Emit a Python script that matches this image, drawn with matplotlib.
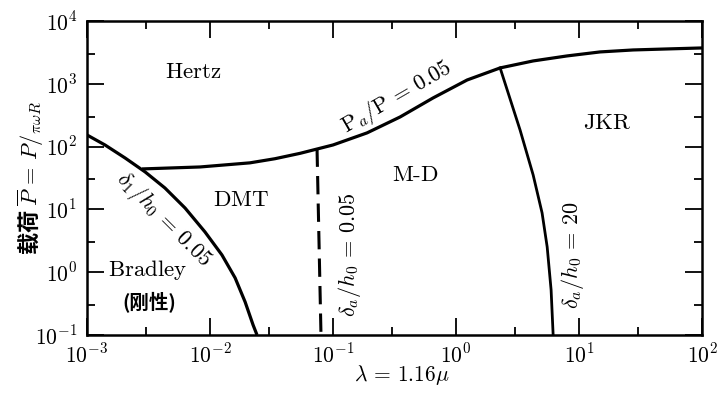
import matplotlib
matplotlib.use("Agg")
import matplotlib.pyplot as plt
from matplotlib.ticker import FixedLocator, FixedFormatter, NullFormatter

plt.rcParams['mathtext.fontset'] = 'cm'
plt.rcParams['font.family'] = ['DejaVu Serif']

# Regime boundaries on the load / elasticity map
pa_lam = [0.0028, 0.0083, 0.0211, 0.0337, 0.054, 0.1, 0.189, 0.351, 0.65, 1.23,
          2.28, 4.23, 7.98, 14.8, 27.5, 51.9, 100]
pa_load = [44, 47.3, 55, 64, 78, 106, 165, 296, 594, 1148,
           1786, 2307, 2772, 3210, 3451, 3580, 3715]

d1_lam = [0.001, 0.0014, 0.00204, 0.00297, 0.0043, 0.00627, 0.0091, 0.0125,
          0.016, 0.0193, 0.0224, 0.0241]
d1_load = [153, 106, 65.8, 39.4, 21.9, 10.5, 4.37, 1.88, 0.81, 0.335, 0.144, 0.1]

da005_lam = [0.0741, 0.0798]
da005_load = [93, 0.1]

da20_lam = [2.28, 3.31, 4.23, 5.0, 5.5, 5.92, 6.15]
da20_load = [1786, 184, 35.3, 8.77, 2.52, 0.52, 0.1]

decades = [1e-3, 1e-2, 1e-1, 1e0, 1e1, 1e2]
x_ticklabels = [r'$10^{-3}$', r'$10^{-2}$', r'$10^{-1}$', r'$10^{0}$', r'$10^{1}$', r'$10^{2}$']
load_decades = [1e-1, 1e0, 1e1, 1e2, 1e3, 1e4]
y_ticklabels = [r'$10^{-1}$', r'$10^{0}$', r'$10^{1}$', r'$10^{2}$', r'$10^{3}$', r'$10^{4}$']

fig = plt.figure(figsize=(7.17, 3.95), dpi=100)
ax = fig.add_axes([0.1213, 0.152, 0.858, 0.795])
ax.set_xscale('log')
ax.set_yscale('log')
ax.set_xlim(1e-3, 1e2)
ax.set_ylim(1e-1, 1e4)

ax.plot(pa_lam, pa_load, color='black', lw=2.3, solid_capstyle='butt', solid_joinstyle='round')
ax.plot(d1_lam, d1_load, color='black', lw=2.3, solid_capstyle='butt', solid_joinstyle='round')
ax.plot(da005_lam, da005_load, color='black', lw=2.2, dashes=(6, 3))
ax.plot(da20_lam, da20_load, color='black', lw=2.0, solid_joinstyle='round')

# ticks: decades major, half decades minor, all pointing inward
ax.xaxis.set_major_locator(FixedLocator(decades))
ax.xaxis.set_major_formatter(FixedFormatter(x_ticklabels))
ax.xaxis.set_minor_locator(FixedLocator([3 * d for d in decades[:-1]]))
ax.xaxis.set_minor_formatter(NullFormatter())
ax.yaxis.set_major_locator(FixedLocator(load_decades))
ax.yaxis.set_major_formatter(FixedFormatter(y_ticklabels))
ax.yaxis.set_minor_locator(FixedLocator([3 * d for d in load_decades[:-1]]))
ax.yaxis.set_minor_formatter(NullFormatter())
ax.tick_params(which='both', direction='in', top=True, right=True, width=1.3, labelsize=15.5)
ax.tick_params(which='major', length=12)
ax.tick_params(axis='x', which='major', pad=6)
ax.tick_params(axis='y', which='major', pad=7)
ax.tick_params(which='minor', length=6)
for s in ax.spines.values():
    s.set_linewidth(1.8)

ax.set_xlabel(r'$\lambda\,=\,1.16\mu$', fontsize=15.5)
ax.xaxis.set_label_coords(0.512, -0.09)
ax.set_ylabel(r'载荷 $\overline{P}\,=\,P/{}_{\pi\omega R}$', fontsize=16,
              family=['Noto Sans CJK SC', 'DejaVu Sans'], weight='bold')
ax.yaxis.set_label_coords(-0.066, 0.5)

# region names
ax.text(0.0073, 1550, r'$\mathrm{Hertz}$', fontsize=16.5, ha='center', va='center')
ax.text(0.018, 14, r'$\mathrm{DMT}$', fontsize=16.5, ha='center', va='center')
ax.text(0.47, 35, r'$\mathrm{M\text{-}D}$', fontsize=16.5, ha='center', va='center')
ax.text(17, 238, r'$\mathrm{JKR}$', fontsize=16.5, ha='center', va='center')
ax.text(0.0031, 1.08, r'$\mathrm{Bradley}$', fontsize=16.5, ha='center', va='center')
ax.text(0.0032, 0.335, '(刚性)', fontsize=14, ha='center', va='center',
        family=['Noto Sans CJK SC', 'DejaVu Sans'], weight='bold')

# boundary labels
ax.text(0.331, 617, r'$\mathrm{P}_a/\mathrm{P}\,=\,0.05$', fontsize=16,
        ha='center', va='center', rotation=30, rotation_mode='anchor')
ax.text(0.00415, 7.0, r'$\delta_1/h_0\,=\,0.05$', fontsize=16,
        ha='center', va='center', rotation=-45, rotation_mode='anchor')
ax.text(0.137, 1.88, r'$\delta_a/h_0\,=\,0.05$', fontsize=16,
        ha='center', va='center', rotation=90, rotation_mode='anchor')
ax.text(8.9, 1.83, r'$\delta_a/h_0\,=\,20$', fontsize=16,
        ha='center', va='center', rotation=90, rotation_mode='anchor')

fig.savefig('out.png', dpi=100)
